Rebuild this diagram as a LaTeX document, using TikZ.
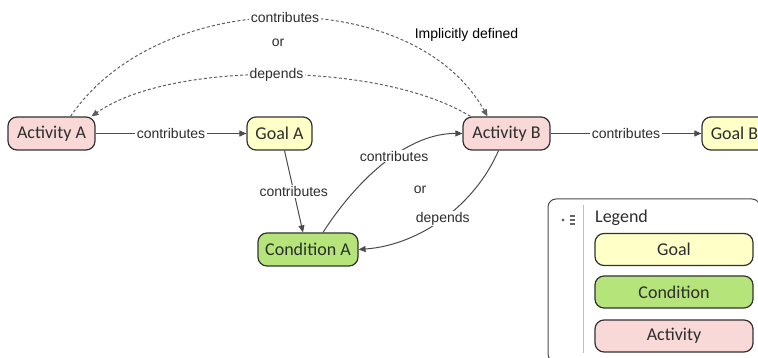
\documentclass[tikz,border=0pt]{standalone}
\usepackage{fontspec}
\newfontfamily\nodefont{Carlito}
\newfontfamily\lblfont{Liberation Sans}
\usetikzlibrary{arrows.meta}
\definecolor{actfill}{RGB}{249,216,216}
\definecolor{goalfill}{RGB}{255,255,200}
\definecolor{condfill}{RGB}{181,229,122}
\definecolor{bordc}{RGB}{50,50,50}
\definecolor{edgec}{RGB}{75,75,75}
\definecolor{dashc}{RGB}{95,95,95}
\definecolor{txtc}{RGB}{45,45,45}
\tikzset{
  box/.style={draw=bordc, line width=1.2pt, rounded corners=9pt, minimum height=33pt,
    inner sep=0pt, font=\nodefont\fontsize{18}{20}\selectfont, text=txtc},
  actbox/.style={box, fill=actfill},
  goalbox/.style={box, fill=goalfill},
  condbox/.style={box, fill=condfill},
  conn/.style={draw=edgec, line width=1pt, -{Triangle[length=7pt,width=6pt]}},
  dconn/.style={draw=dashc, line width=1pt, dash pattern=on 3pt off 2.2pt, -{Triangle[length=7pt,width=6pt]}},
  lbl/.style={fill=white, inner xsep=1.5pt, inner ysep=1pt, text=txtc,
    font=\lblfont\fontsize{14}{16}\selectfont},
  plain/.style={inner sep=0pt, text=txtc, font=\lblfont\fontsize{14}{16}\selectfont}
}
\begin{document}
\begin{tikzpicture}[x=1pt, y=-1pt]
\useasboundingbox (0,0) rectangle (758,358);
% legend
\draw[draw=edgec, line width=1pt, rounded corners=8pt, fill=white] (548,199) rectangle (760,362);
\draw[draw=black!25, line width=0.8pt] (583,205) -- (583,353);
\fill[black!60] (563,220) circle (1.6pt);
\foreach \yy in {216,220,224} { \draw[black!60, line width=1.2pt] (569.5,\yy) -- (574.5,\yy); }
\node[anchor=west, inner sep=0pt, text=txtc, font=\nodefont\fontsize{18}{20}\selectfont] (legtitle) at (595,218) {Legend};
\node[goalbox, minimum width=158pt, minimum height=32pt] (lgoal) at (674,249.5) {Goal};
\node[condbox, minimum width=158pt, minimum height=32pt] (lcond) at (674,292) {Condition};
\node[actbox, minimum width=158pt, minimum height=32pt] (lact) at (674,336) {Activity};

% nodes
\node[actbox, minimum width=87pt] (actA) at (51.5,133.5) {Activity A};
\node[goalbox, minimum width=65pt] (goalA) at (279.5,133.5) {Goal A};
\node[actbox, minimum width=87pt] (actB) at (506.5,133.5) {Activity B};
\node[goalbox, minimum width=65pt] (goalB) at (734.5,133.5) {Goal B};
\node[condbox, minimum width=100pt] (condA) at (308,249.5) {Condition A};

% straight edges
\draw[conn] (actA.east) -- node[lbl] {contributes} (goalA.west);
\draw[conn] (actB.east) -- node[lbl] {contributes} (goalB.west);
\draw[conn] ([xshift=5pt]goalA.south) -- node[lbl] {contributes} ([xshift=-5pt]condA.north);

% curved edges
\draw[conn] ([xshift=15pt]condA.north) .. controls (360,175) and (410,133) .. node[lbl, pos=0.55] {contributes} (actB.west);
\draw[conn] ([xshift=-8pt]actB.south) .. controls (475,205) and (420,245) .. node[lbl, pos=0.5] {depends} (condA.east);
\node[plain] (or2) at (420,190) {or};

% dashed edges
\draw[dconn] ([xshift=19pt]actA.north) .. controls (160,-15) and (414,-15) .. node[lbl, inner ysep=0pt] {contributes} ([xshift=-19pt]actB.north);
\draw[dconn] ([xshift=-36pt]actB.north) .. controls (380,61) and (170,61) .. node[lbl, inner ysep=0pt] {depends} ([xshift=40pt]actA.north);
\node[plain] (or1) at (278,43) {or};
\node[plain, text=black] (impl) at (466.5,35) {Implicitly defined};
\end{tikzpicture}
\end{document}
